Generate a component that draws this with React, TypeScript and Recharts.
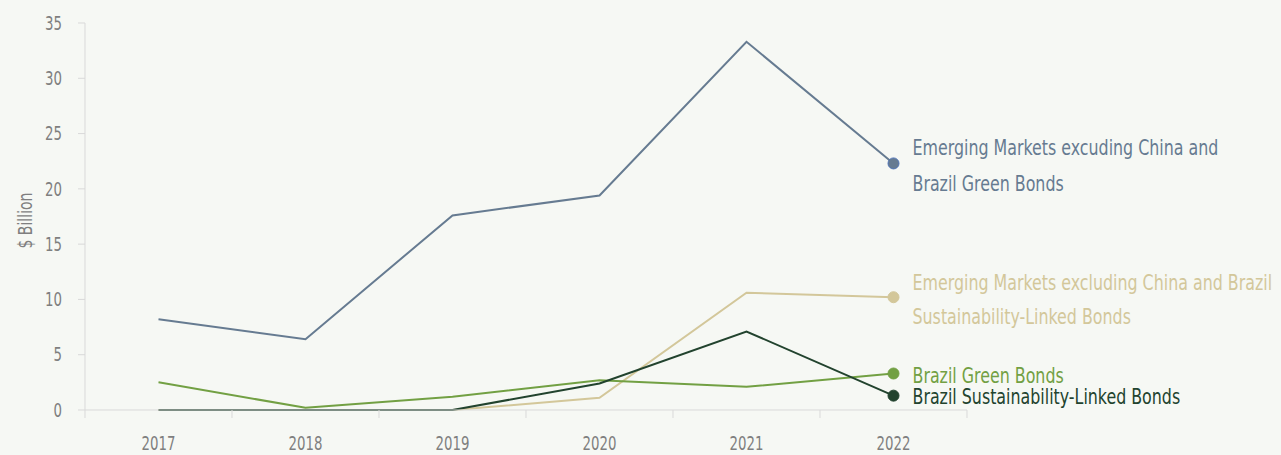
import React from 'react';
import { LineChart, Line, XAxis, YAxis } from 'recharts';

const years = ['2017', '2018', '2019', '2020', '2021', '2022'];
const emGreen = [8.2, 6.4, 17.6, 19.4, 33.3, 22.3];
const emSlb = [0, 0, 0, 1.1, 10.6, 10.2];
const brGreen = [2.5, 0.2, 1.2, 2.7, 2.1, 3.3];
const brSlb = [0, 0, 0, 2.4, 7.1, 1.3];
const yTicks = [0, 5, 10, 15, 20, 25, 30, 35];
const boundaryTicks = [-0.5, 0.5, 1.5, 2.5, 3.5, 4.5, 5.5];

const data = years.map((year, i) => ({
  x: i,
  year,
  emGreen: emGreen[i],
  emSlb: emSlb[i],
  brGreen: brGreen[i],
  brSlb: brSlb[i],
}));

const FONT = '"DejaVu Sans Condensed", "DejaVu Sans", sans-serif';
const BG = '#f6f8f4';
const AXIS = '#d9d9d9';
const TICKTXT = '#7f7f7f';

const series = [
  { key: 'emGreen', color: '#667b91', dotStroke: '#4f73b5', lines: ['Emerging Markets excuding China and', 'Brazil Green Bonds'], dys: [-15, 21] },
  { key: 'emSlb', color: '#d3c79a', dotStroke: '#d3c79a', lines: ['Emerging Markets excluding China and Brazil', 'Sustainability-Linked Bonds'], dys: [-14, 20] },
  { key: 'brGreen', color: '#72a043', dotStroke: '#72a043', lines: ['Brazil Green Bonds'], dys: [2] },
  { key: 'brSlb', color: '#22432e', dotStroke: '#22432e', lines: ['Brazil Sustainability-Linked Bonds'], dys: [1] },
];

const CText = ({ x, y, size, color, anchor = 'start', rotate = 0, sx = 0.8, children }: any) => (
  <text
    transform={`translate(${x},${y}) rotate(${rotate}) scale(${sx},1)`}
    x={0}
    y={0}
    textAnchor={anchor}
    dominantBaseline="central"
    fill={color}
    fontSize={size}
    fontFamily={FONT}
  >
    {children}
  </text>
);

const makeDot = (s: any) => (props: any) => {
  const { cx, cy, index } = props;
  if (index !== years.length - 1) return <g key={`d${s.key}${index}`} />;
  return (
    <g key={`d${s.key}${index}`}>
      <circle cx={cx} cy={cy} r={5.5} fill={s.color} stroke={s.dotStroke} strokeWidth={1} />
      {s.lines.map((t: string, j: number) => (
        <CText key={j} x={cx + 19} y={cy + s.dys[j]} size={21} sx={0.84} color={s.color}>
          {t}
        </CText>
      ))}
    </g>
  );
};

const YearTick = (props: any) => {
  const { x, payload } = props;
  return (
    <CText x={x} y={443} size={19} sx={0.78} anchor="middle" color={TICKTXT}>
      {years[payload.value]}
    </CText>
  );
};

const ValueTick = (props: any) => {
  const { x, y, payload } = props;
  return (
    <CText x={x} y={y} size={19} sx={0.78} anchor="end" color={TICKTXT}>
      {payload.value}
    </CText>
  );
};

const YLabel = (props: any) => {
  const vb = props.viewBox || {};
  return (
    <CText x={(vb.x ?? 0) + 25} y={(vb.y ?? 0) + (vb.height ?? 0) / 2 + 4} size={19} sx={0.82} rotate={-90} anchor="middle" color={TICKTXT}>
      $ Billion
    </CText>
  );
};

const EmptyTick = () => <g />;

export default function App() {
  return (
    <div style={{ position: 'fixed', left: 0, top: 0, width: 1281, height: 455, background: BG }}>
      <LineChart width={1281} height={455} data={data} margin={{ top: 23, right: 314, bottom: 15, left: 0 }}>
        <XAxis
          xAxisId="bnd"
          dataKey="x"
          type="number"
          domain={[-0.5, 5.5]}
          ticks={boundaryTicks}
          interval={0}
          tick={<EmptyTick />}
          tickLine={{ stroke: AXIS }}
          tickSize={8}
          axisLine={{ stroke: AXIS }}
          height={10}
        />
        <XAxis
          xAxisId="lbl"
          dataKey="x"
          type="number"
          domain={[-0.5, 5.5]}
          ticks={[0, 1, 2, 3, 4, 5]}
          interval={0}
          tick={<YearTick />}
          tickLine={false}
          axisLine={false}
          height={20}
        />
        <YAxis
          domain={[0, 35]}
          ticks={yTicks}
          width={85}
          tick={<ValueTick />}
          tickLine={{ stroke: AXIS }}
          tickSize={7}
          tickMargin={16}
          axisLine={{ stroke: AXIS }}
          label={<YLabel />}
        />
        {series.map((s) => (
          <Line
            key={s.key}
            xAxisId="lbl"
            type="linear"
            dataKey={s.key}
            stroke={s.color}
            strokeWidth={2}
            dot={makeDot(s)}
            activeDot={false}
            isAnimationActive={false}
          />
        ))}
      </LineChart>
    </div>
  );
}
